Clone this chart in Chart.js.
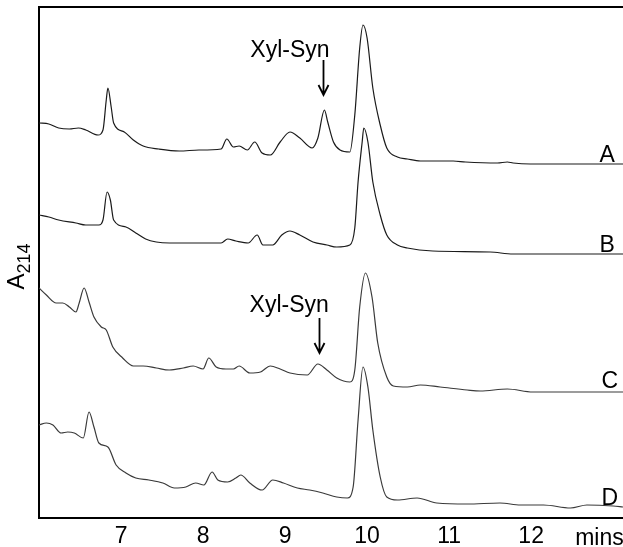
<!DOCTYPE html>
<html>
<head>
<meta charset="utf-8">
<script src="https://cdn.jsdelivr.net/npm/chart.js@4"></script>
<style>
  html, body { margin: 0; padding: 0; background: #fff; }
  #wrap { width: 623px; height: 547px; }
</style>
</head>
<body>
<div id="wrap"><canvas id="c" width="623" height="547"></canvas></div>
<script>
// ---- data (retention time in minutes, absorbance at 214 nm, traces offset) ----
const timeA = [6.00,6.12,6.24,6.37,6.48,6.57,6.72,6.78,6.82,6.84,6.88,6.91,7.04,7.15,7.27,7.46,7.71,7.95,8.22,8.29,8.37,8.44,8.54,8.63,8.72,8.82,8.94,9.06,9.18,9.33,9.40,9.48,9.52,9.59,9.67,9.79,9.85,9.91,9.95,10.00,10.07,10.16,10.24,10.37,10.49,10.65,11.05,11.20,11.59,11.71,11.78,11.99,12.84,13.12];
const absA  = [395,394,390,389,390,388,383,388,418,430,411,395,386,378,372,369,367,368,369,379,371,372,368,376,365,363,376,386,380,370,380,408,396,376,368,366,403,470,493,480,430,393,370,361,359,357,357,356,355,356,355,354,354,354];

const timeB = [6.00,6.12,6.24,6.45,6.57,6.73,6.78,6.83,6.87,6.91,7.06,7.18,7.30,7.43,7.59,8.04,8.22,8.30,8.40,8.55,8.66,8.73,8.85,8.96,9.06,9.18,9.34,9.51,9.63,9.79,9.85,9.89,9.94,9.96,10.01,10.07,10.16,10.24,10.37,10.49,10.80,11.50,11.78,13.12];
const absB  = [303,301,298,295,293,293,298,326,318,298,291,285,279,276,275,275,275,279,277,275,283,273,273,283,287,283,276,273,271,273,290,336,376,390,376,336,303,283,273,270,267,266,264,264];

const timeC = [6.00,6.09,6.21,6.29,6.37,6.45,6.49,6.55,6.61,6.67,6.76,6.82,6.90,7.02,7.15,7.27,7.43,7.59,7.76,7.88,8.00,8.07,8.16,8.28,8.37,8.44,8.57,8.70,8.82,8.94,9.06,9.27,9.40,9.51,9.63,9.79,9.85,9.91,9.98,10.06,10.13,10.24,10.32,10.49,10.65,10.89,11.22,11.38,11.71,12.02,12.35,12.84,13.12];
const absC  = [230,223,215,215,211,206,215,230,216,201,191,188,171,160,152,152,150,148,150,152,149,160,151,149,149,152,145,146,152,149,145,143,154,148,140,136,148,211,245,221,175,141,132,131,133,131,128,127,129,126,126,126,126];

const timeD = [6.00,6.09,6.17,6.27,6.35,6.43,6.54,6.61,6.67,6.73,6.84,6.94,7.06,7.18,7.34,7.51,7.65,7.79,7.91,8.01,8.11,8.18,8.30,8.40,8.46,8.57,8.72,8.85,8.98,9.15,9.30,9.46,9.63,9.76,9.83,9.89,9.95,10.01,10.07,10.16,10.24,10.37,10.61,10.85,11.22,11.62,11.87,12.15,12.48,12.68,13.00,13.12];
const absD  = [93,95,93,85,86,85,80,106,91,75,71,53,45,40,38,35,30,31,35,33,46,38,36,40,43,35,28,38,35,30,28,25,21,20,31,98,151,131,88,41,21,18,20,15,14,15,13,13,10,13,12,11];

const seriesNames = ['A','B','C','D'];
const tickValues = [7,8,9,10,11,12];
const xUnit = 'mins';
const peakLabel = 'Xyl-Syn';
// trace name label positions (time, absorbance)
const nameTime = [13.02, 13.02, 13.06, 13.06];
const nameAbs  = [356, 266, 130, 13];
// Xyl-Syn annotation: text centre time, text baseline abs, arrow time, arrow top, arrow tip
const synTextTime = [9.06, 9.05];
const synTextAbs  = [461, 206];
const synArrowTime = [9.46, 9.41];
const synArrowTop  = [458, 200];
const synArrowTip  = [423, 165];

const FONT = '"Liberation Sans", Arial, sans-serif';

function pts(t, v) { return t.map((x, i) => ({ x: x, y: v[i] })); }

const traceColors = ['#1a1a1a', '#1a1a1a', '#3a3a3a', '#3a3a3a'];
const datasets = [pts(timeA, absA), pts(timeB, absB), pts(timeC, absC), pts(timeD, absD)].map((d, i) => ({
  label: seriesNames[i],
  data: d,
  borderColor: traceColors[i],
  borderWidth: 1.2,
  pointRadius: 0,
  fill: false,
  cubicInterpolationMode: 'monotone'
}));

const annot = {
  id: 'annot',
  afterDraw(chart) {
    const { ctx, chartArea: ca, scales: { x, y } } = chart;
    ctx.save();
    // top border
    ctx.strokeStyle = '#000';
    ctx.lineWidth = 2;
    ctx.beginPath();
    ctx.moveTo(ca.left - 1, ca.top);
    ctx.lineTo(ca.right, ca.top);
    ctx.stroke();

    ctx.fillStyle = '#000';
    ctx.textBaseline = 'alphabetic';
    // trace names
    ctx.font = '23px ' + FONT;
    ctx.textAlign = 'right';
    seriesNames.forEach((n, i) => {
      ctx.fillText(n, x.getPixelForValue(nameTime[i]), y.getPixelForValue(nameAbs[i]));
    });
    // Xyl-Syn labels and arrows
    ctx.textAlign = 'center';
    for (let i = 0; i < synTextTime.length; i++) {
      ctx.fillText(peakLabel, x.getPixelForValue(synTextTime[i]), y.getPixelForValue(synTextAbs[i]));
      const ax = Math.round(x.getPixelForValue(synArrowTime[i])) + 0.5;
      const ay0 = y.getPixelForValue(synArrowTop[i]);
      const ay1 = y.getPixelForValue(synArrowTip[i]);
      ctx.lineWidth = 1.8;
      ctx.beginPath();
      ctx.moveTo(ax, ay0);
      ctx.lineTo(ax, ay1);
      ctx.moveTo(ax - 5, ay1 - 10);
      ctx.lineTo(ax, ay1);
      ctx.lineTo(ax + 5, ay1 - 10);
      ctx.stroke();
    }
    // x unit
    ctx.textAlign = 'left';
    ctx.font = '23px ' + FONT;
    ctx.fillText(xUnit, x.getPixelForValue(12) + 44, ca.bottom + 27);

    // y axis title A214 (rotated)
    ctx.translate(24, (ca.top + ca.bottom) / 2 + 4);
    ctx.rotate(-Math.PI / 2);
    ctx.font = '24px ' + FONT;
    const wA = ctx.measureText('A').width;
    ctx.font = '18px ' + FONT;
    const wS = ctx.measureText('214').width;
    const start = -(wA + wS) / 2;
    ctx.textAlign = 'left';
    ctx.font = '24px ' + FONT;
    ctx.fillText('A', start, 0);
    ctx.font = '18px ' + FONT;
    ctx.fillText('214', start + wA, 6);
    ctx.restore();
  }
};

new Chart(document.getElementById('c'), {
  type: 'line',
  data: { datasets },
  options: {
    responsive: false,
    animation: false,
    devicePixelRatio: 1,
    layout: { padding: { top: 7, right: 0, left: 0, bottom: 0 } },
    plugins: { legend: { display: false }, tooltip: { enabled: false } },
    scales: {
      x: {
        type: 'linear',
        min: 6,
        max: 13.12,
        grid: { display: false, drawTicks: false },
        border: { display: true, color: '#000', width: 2 },
        afterBuildTicks: (s) => { s.ticks = tickValues.map(v => ({ value: v })); },
        afterFit: (s) => { s.height = 29; },
        ticks: { color: '#000', padding: 5, font: { family: FONT, size: 23 } }
      },
      y: {
        type: 'linear',
        min: 0,
        max: 511,
        grid: { display: false, drawTicks: false },
        border: { display: true, color: '#000', width: 2 },
        ticks: { display: false },
        afterFit: (s) => { s.width = 39; }
      }
    }
  },
  plugins: [annot]
});
</script>
</body>
</html>
